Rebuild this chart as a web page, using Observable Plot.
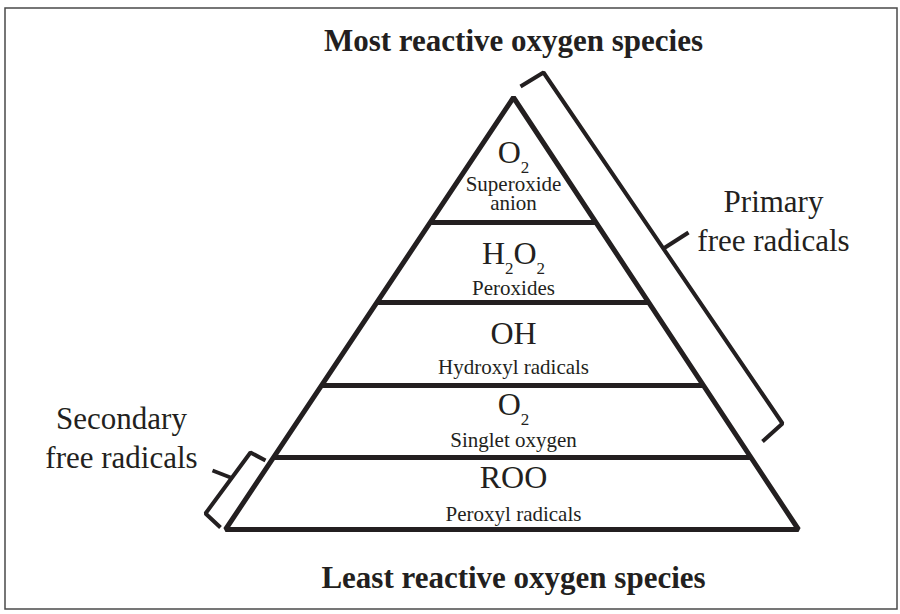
<!DOCTYPE html>
<html>
<head>
<meta charset="utf-8">
<script src="https://cdn.jsdelivr.net/npm/d3@7"></script>
<script src="https://cdn.jsdelivr.net/npm/@observablehq/plot@0.6"></script>
<style>
  html, body { margin: 0; padding: 0; background: #fff; }
  svg { display: block; }
</style>
</head>
<body>
<div id="chart"></div>
<script>
// ---- data (diagram geometry, in picture units) ----
const frameBox = [{x1: 5, y1: 8, x2: 897, y2: 609}];
const apex = {x: 513, y: 97};
const baseY = 529;
const baseLeft = 225;
const baseRight = 798;
const levelBounds = [222, 302, 385, 457];           // separators between levels
const formulas = ["O₂", "H₂O₂", "OH", "O₂", "ROO"];
const formulaBaselines = [162, 263, 343, 414, 487];
const names = ["Superoxide\nanion", "Peroxides", "Hydroxyl radicals", "Singlet oxygen", "Peroxyl radicals"];
const nameBaselines = [209, 294, 373, 446, 520];
const titles = ["Most reactive oxygen species", "Least reactive oxygen species"];
const titleBaselines = [50, 587];
const sideLabels = ["Primary\nfree radicals", "Secondary\nfree radicals"];
const sideLabelX = [773, 121];
const sideLabelBaselines = [250, 467];
const primaryBracket = [[520, 86], [543, 72], [782, 423], [762, 441]];
const primaryTick = [[663, 248], [688, 232]];
const secondaryBracket = [[265, 460], [250, 452], [205, 513], [220, 527]];
const secondaryTick = [[230, 477], [212, 470]];

// ---- derived tables ----
const ink = "#231f20";
const cx = apex.x;
const edgeX = (y, bx) => apex.x + (bx - apex.x) * (y - apex.y) / (baseY - apex.y);
const outline = [
  {x: apex.x, y: apex.y},
  {x: baseRight, y: baseY},
  {x: baseLeft, y: baseY}
];
const separators = levelBounds.map(y => ({x1: edgeX(y, baseLeft), x2: edgeX(y, baseRight), y}));
const bracketPts = [
  ...primaryBracket.map(([x, y]) => ({x, y, id: "p"})),
  ...primaryTick.map(([x, y]) => ({x, y, id: "pt"})),
  ...secondaryBracket.map(([x, y]) => ({x, y, id: "s"})),
  ...secondaryTick.map(([x, y]) => ({x, y, id: "st"}))
];
const formulaRows = formulas.map((f, i) => ({text: f, x: cx, y: formulaBaselines[i]}));
const nameRows = names.map((n, i) => ({text: n, x: cx, y: nameBaselines[i]}));
const titleRows = titles.map((t, i) => ({text: t, x: cx, y: titleBaselines[i]}));
const sideRows = sideLabels.map((t, i) => ({text: t, x: sideLabelX[i], y: sideLabelBaselines[i]}));

const font = "Liberation Serif, Times New Roman, serif";

const chart = Plot.plot({
  width: 900,
  height: 614,
  margin: 0,
  x: {domain: [0, 900], range: [0, 900], axis: null},
  y: {domain: [0, 614], range: [0, 614], axis: null},
  style: {background: "#fff", fontFamily: font},
  marks: [
    Plot.rect(frameBox, {x1: "x1", y1: "y1", x2: "x2", y2: "y2", fill: "none", stroke: "#4a4a4a", strokeWidth: 1.5}),
    Plot.line(outline, {x: "x", y: "y", curve: "linear-closed", stroke: ink, strokeWidth: 5, strokeLinejoin: "miter", strokeLinecap: "butt"}),
    Plot.link(separators, {x1: "x1", x2: "x2", y1: "y", y2: "y", stroke: ink, strokeWidth: 5, strokeLinecap: "butt"}),
    Plot.line(bracketPts, {x: "x", y: "y", z: "id", stroke: ink, strokeWidth: 4, strokeLinejoin: "miter", strokeLinecap: "butt"}),
    Plot.text(formulaRows, {x: "x", y: "y", text: "text", fontSize: 32, fill: ink, lineAnchor: "bottom", textAnchor: "middle", fontFamily: font}),
    Plot.text(nameRows, {x: "x", y: "y", text: "text", fontSize: 21, lineHeight: 0.86, fill: ink, lineAnchor: "bottom", textAnchor: "middle", fontFamily: font}),
    Plot.text(titleRows, {x: "x", y: "y", text: "text", fontSize: 31, fontWeight: "bold", fill: ink, lineAnchor: "bottom", textAnchor: "middle", fontFamily: font}),
    Plot.text(sideRows, {x: "x", y: "y", text: "text", fontSize: 31, lineHeight: 1.23, fill: ink, lineAnchor: "bottom", textAnchor: "middle", fontFamily: font})
  ]
});

// render subscript digits as real lowered text
chart.querySelectorAll("text").forEach(t => {
  if (t.children.length || !t.textContent.includes("₂")) return;
  const s = t.textContent;
  t.textContent = "";
  let low = false;
  for (const ch of s) {
    const ts = document.createElementNS("http://www.w3.org/2000/svg", "tspan");
    if (ch === "₂") {
      ts.textContent = "2";
      ts.setAttribute("font-size", 17);
      if (!low) ts.setAttribute("dy", 10);
      low = true;
    } else {
      ts.textContent = ch;
      if (low) ts.setAttribute("dy", -10);
      low = false;
    }
    t.appendChild(ts);
  }
});

document.getElementById("chart").appendChild(chart);
</script>
</body>
</html>
